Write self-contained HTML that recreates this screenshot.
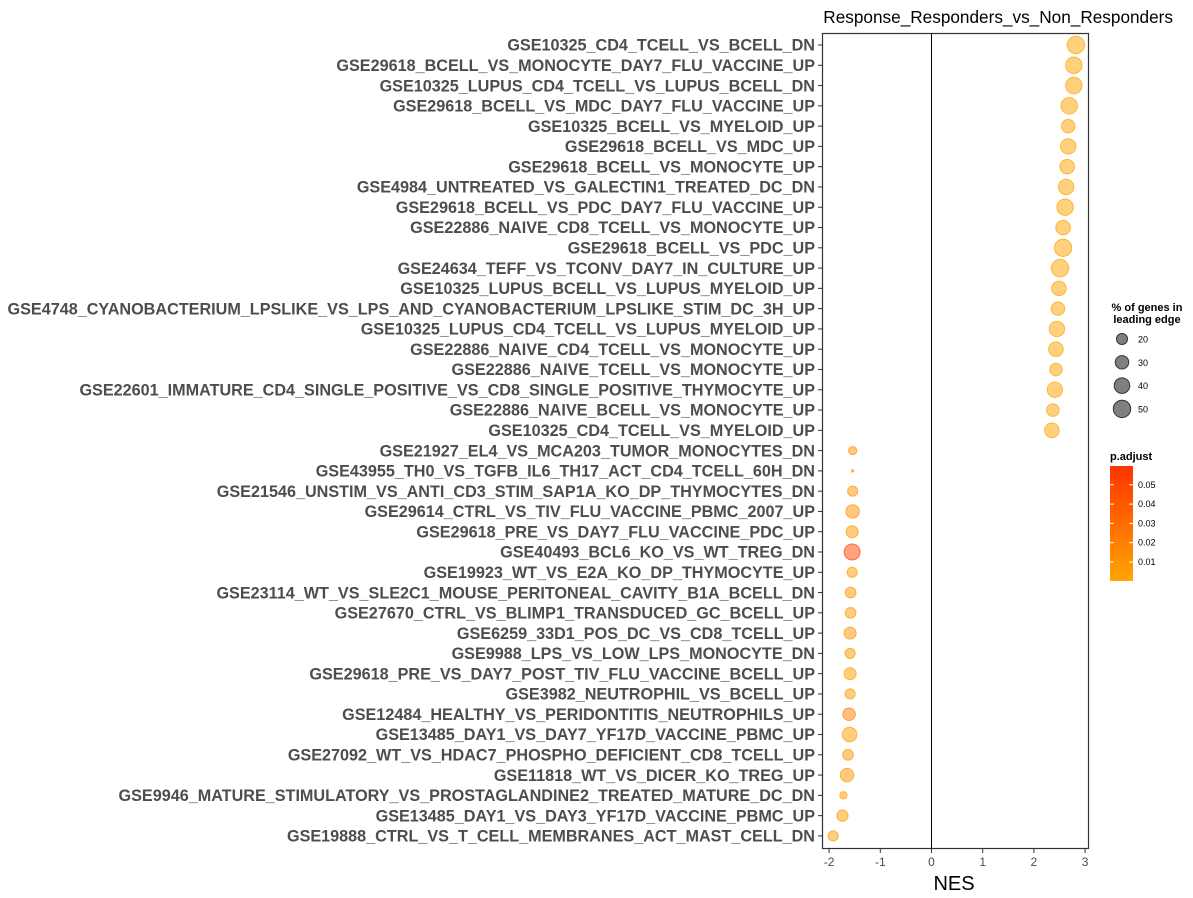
<!DOCTYPE html>
<html><head><meta charset="utf-8"><style>
body{margin:0;background:#fff}
svg{display:block;font-family:"Liberation Sans",Arial,sans-serif}
</style></head><body>
<svg id="chart" width="1193" height="898">
<defs><linearGradient id="grad" x1="0" y1="1" x2="0" y2="0"><stop offset="0" stop-color="#FFA500"/><stop offset="1" stop-color="#FF3300"/></linearGradient></defs>
<text x="1173" y="23" text-anchor="end" font-size="17.2" fill="#000">Response_Responders_vs_Non_Responders</text>
<rect x="822.5" y="33.5" width="266" height="815" fill="none" stroke="#333" stroke-width="1.2"/>
<g id="marks"></g>
<text x="954" y="890" text-anchor="middle" font-size="20" fill="#000">NES</text>
<text x="1147" y="311" text-anchor="middle" font-size="11" font-weight="bold">% of genes in</text>
<text x="1147" y="323" text-anchor="middle" font-size="11" font-weight="bold">leading edge</text>
<text x="1110" y="460" font-size="11" font-weight="bold">p.adjust</text>
<rect x="1110" y="466" width="23" height="115" fill="url(#grad)"/>
</svg>
<script>
const terms=["GSE10325_CD4_TCELL_VS_BCELL_DN","GSE29618_BCELL_VS_MONOCYTE_DAY7_FLU_VACCINE_UP","GSE10325_LUPUS_CD4_TCELL_VS_LUPUS_BCELL_DN","GSE29618_BCELL_VS_MDC_DAY7_FLU_VACCINE_UP","GSE10325_BCELL_VS_MYELOID_UP","GSE29618_BCELL_VS_MDC_UP","GSE29618_BCELL_VS_MONOCYTE_UP","GSE4984_UNTREATED_VS_GALECTIN1_TREATED_DC_DN","GSE29618_BCELL_VS_PDC_DAY7_FLU_VACCINE_UP","GSE22886_NAIVE_CD8_TCELL_VS_MONOCYTE_UP","GSE29618_BCELL_VS_PDC_UP","GSE24634_TEFF_VS_TCONV_DAY7_IN_CULTURE_UP","GSE10325_LUPUS_BCELL_VS_LUPUS_MYELOID_UP","GSE4748_CYANOBACTERIUM_LPSLIKE_VS_LPS_AND_CYANOBACTERIUM_LPSLIKE_STIM_DC_3H_UP","GSE10325_LUPUS_CD4_TCELL_VS_LUPUS_MYELOID_UP","GSE22886_NAIVE_CD4_TCELL_VS_MONOCYTE_UP","GSE22886_NAIVE_TCELL_VS_MONOCYTE_UP","GSE22601_IMMATURE_CD4_SINGLE_POSITIVE_VS_CD8_SINGLE_POSITIVE_THYMOCYTE_UP","GSE22886_NAIVE_BCELL_VS_MONOCYTE_UP","GSE10325_CD4_TCELL_VS_MYELOID_UP","GSE21927_EL4_VS_MCA203_TUMOR_MONOCYTES_DN","GSE43955_TH0_VS_TGFB_IL6_TH17_ACT_CD4_TCELL_60H_DN","GSE21546_UNSTIM_VS_ANTI_CD3_STIM_SAP1A_KO_DP_THYMOCYTES_DN","GSE29614_CTRL_VS_TIV_FLU_VACCINE_PBMC_2007_UP","GSE29618_PRE_VS_DAY7_FLU_VACCINE_PDC_UP","GSE40493_BCL6_KO_VS_WT_TREG_DN","GSE19923_WT_VS_E2A_KO_DP_THYMOCYTE_UP","GSE23114_WT_VS_SLE2C1_MOUSE_PERITONEAL_CAVITY_B1A_BCELL_DN","GSE27670_CTRL_VS_BLIMP1_TRANSDUCED_GC_BCELL_UP","GSE6259_33D1_POS_DC_VS_CD8_TCELL_UP","GSE9988_LPS_VS_LOW_LPS_MONOCYTE_DN","GSE29618_PRE_VS_DAY7_POST_TIV_FLU_VACCINE_BCELL_UP","GSE3982_NEUTROPHIL_VS_BCELL_UP","GSE12484_HEALTHY_VS_PERIDONTITIS_NEUTROPHILS_UP","GSE13485_DAY1_VS_DAY7_YF17D_VACCINE_PBMC_UP","GSE27092_WT_VS_HDAC7_PHOSPHO_DEFICIENT_CD8_TCELL_UP","GSE11818_WT_VS_DICER_KO_TREG_UP","GSE9946_MATURE_STIMULATORY_VS_PROSTAGLANDINE2_TREATED_MATURE_DC_DN","GSE13485_DAY1_VS_DAY3_YF17D_VACCINE_PBMC_UP","GSE19888_CTRL_VS_T_CELL_MEMBRANES_ACT_MAST_CELL_DN"];
const nes=[2.82,2.78,2.78,2.69,2.67,2.67,2.65,2.63,2.61,2.57,2.57,2.51,2.49,2.47,2.45,2.43,2.43,2.41,2.37,2.35,-1.54,-1.54,-1.54,-1.54,-1.55,-1.55,-1.55,-1.58,-1.58,-1.59,-1.59,-1.59,-1.59,-1.61,-1.60,-1.63,-1.65,-1.72,-1.74,-1.92];
const pct=[50,45,45,45,30,39,35,39,45,35,50,50,35,30,39,35,26,39,26,35,11,1,17,30,24,42,17,19,19,24,17,24,17,26,35,19,30,9,21,17];
const padj=[0.001,0.001,0.001,0.001,0.001,0.001,0.001,0.001,0.001,0.001,0.001,0.001,0.001,0.001,0.001,0.001,0.001,0.001,0.001,0.001,0.008,0.005,0.008,0.01,0.006,0.05,0.004,0.008,0.006,0.008,0.006,0.004,0.004,0.02,0.003,0.006,0.008,0.003,0.004,0.003];
const xTicks=[-2,-1,0,1,2,3];
const sizeLegend=[20,30,40,50];
const colorTicks=[0.01,0.02,0.03,0.04,0.05];
const NS="http://www.w3.org/2000/svg";
const svg=document.getElementById('chart'), g=document.getElementById('marks');
const xs=v=>931.5+v*51.2;
const ys=i=>45+i*20.28;
const rs=p=>1.23*Math.sqrt(p);
function col(p){const t=Math.min(p/0.0596,1);const gc=Math.round(165-t*(165-51));return 'rgb(255,'+gc+',0)';}
function mk(tag,attrs,parent){const e=document.createElementNS(NS,tag);for(const k in attrs)e.setAttribute(k,attrs[k]);(parent||svg).appendChild(e);return e;}
const zl=mk('line',{x1:xs(0),x2:xs(0),y1:33.5,y2:848.5,stroke:'#000','stroke-width':1},g);


terms.forEach((t,i)=>{
 const y=ys(i);
 const tk=mk('line',{x1:818,x2:822,y1:y,y2:y,stroke:'#333'});
 
 
 const lb=mk('text',{x:815,y:y+5.7,'text-anchor':'end','font-size':16.2,'font-weight':'bold',fill:'#4d4d4d'});
 lb.textContent=t;
 
 
 const c=col(padj[i]);
 const d=mk('circle',{cx:xs(nes[i]),cy:y,r:rs(pct[i]),fill:c,'fill-opacity':0.5,stroke:c,'stroke-opacity':0.7,'stroke-width':1},g);
 
 
});
xTicks.forEach(v=>{
 const tk=mk('line',{x1:xs(v),x2:xs(v),y1:848.5,y2:853,stroke:'#333'});
 
 
 const lb=mk('text',{x:xs(v),y:866,'text-anchor':'middle','font-size':12,fill:'#4d4d4d'});
 lb.textContent=v;
 
 
});
sizeLegend.forEach((p,i)=>{
 const y=339+i*23.3;
 const c=mk('circle',{cx:1122,cy:y,r:rs(p),fill:'#7f7f7f',stroke:'#333','stroke-width':1});
 
 
 const t=mk('text',{x:1138,y:y+3.5,'font-size':9,fill:'#000'});
 t.textContent=p;
 
 
});
colorTicks.forEach(v=>{
 const y=581.3-v*1930;
 mk('line',{x1:1110,x2:1114,y1:y,y2:y,stroke:'#fff'});
 mk('line',{x1:1129,x2:1133,y1:y,y2:y,stroke:'#fff'});
 const t=mk('text',{x:1138,y:y+3,'font-size':9,fill:'#000'});
 t.textContent=v.toFixed(2);
 
 
});
</script>
</body></html>
